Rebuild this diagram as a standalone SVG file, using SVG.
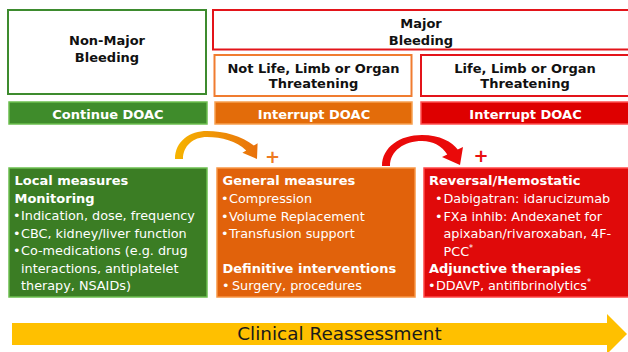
<svg xmlns="http://www.w3.org/2000/svg" width="628" height="352" viewBox="0 0 628 352">
<defs>
<style>
text{font-family:"DejaVu Sans","Liberation Sans",sans-serif;}
.hd{font-size:13px;font-weight:bold;fill:#111;text-anchor:middle;}
.bar{font-size:13px;font-weight:bold;fill:#fff;text-anchor:middle;}
.b{font-size:13px;font-weight:bold;fill:#fff;}
.t{font-size:12.8px;fill:#fff;}
.sup{font-size:8px;}
.frame{fill:#fff;stroke-width:2;}
.plus{font-size:18px;font-weight:bold;text-anchor:middle;}
</style>
<linearGradient id="og" x1="0" y1="0" x2="1" y2="0">
<stop offset="0" stop-color="#f6b400"/>
<stop offset="1" stop-color="#e8700c"/>
</linearGradient>
</defs>
<rect width="628" height="352" fill="#fff"/>

<g id="non-major">
<rect class="frame" x="8" y="10" width="198" height="84" stroke="#3d8b2e"/>
<text class="hd" x="107" y="45">Non-Major</text>
<text class="hd" x="107" y="62">Bleeding</text>
</g>
<g id="major">
<rect class="frame" x="213" y="10" width="420" height="39.5" stroke="#e3141a"/>
<text class="hd" x="421" y="28">Major</text>
<text class="hd" x="421" y="45">Bleeding</text>
</g>
<g id="not-threatening">
<rect class="frame" x="214.5" y="55" width="197" height="41" stroke="#f07c30"/>
<text class="hd" x="313.5" y="73">Not Life, Limb or Organ</text>
<text class="hd" x="313.5" y="88">Threatening</text>
</g>
<g id="threatening">
<rect class="frame" x="421" y="55" width="212" height="41" stroke="#e3141a"/>
<text class="hd" x="525" y="73">Life, Limb or Organ</text>
<text class="hd" x="525" y="88">Threatening</text>
</g>

<g id="continue-doac">
<rect x="9" y="102" width="198" height="22" fill="#3f8c2b" stroke="#6cbf4f" stroke-width="1.5"/>
<text class="bar" x="108" y="119">Continue DOAC</text>
</g>
<g id="interrupt-doac-1">
<rect x="215" y="102" width="197" height="22" fill="#e36c0a" stroke="#f7a050" stroke-width="1.5"/>
<text class="bar" x="314" y="119">Interrupt DOAC</text>
</g>
<g id="interrupt-doac-2">
<rect x="421" y="102" width="212" height="22" fill="#de0000" stroke="#ff5050" stroke-width="1.5"/>
<text class="bar" x="525.5" y="119">Interrupt DOAC</text>
</g>

<g id="local-measures">
<rect x="9" y="168" width="198" height="129" fill="#3b7d24" stroke="#6cbf4f" stroke-width="1.5"/>
<text class="b" x="14.5" y="185">Local measures</text>
<text class="b" x="14.5" y="202.5">Monitoring</text>
<text class="t" x="13" y="220">•<tspan x="21">Indication, dose, frequency</tspan></text>
<text class="t" x="13" y="237.5">•<tspan x="21">CBC, kidney/liver function</tspan></text>
<text class="t" x="13" y="255">•<tspan x="21">Co-medications (e.g. drug</tspan></text>
<text class="t" x="21" y="272.5">interactions, antiplatelet</text>
<text class="t" x="21" y="290">therapy, NSAIDs)</text>
</g>

<g id="general-measures">
<rect x="217" y="168" width="198" height="129" fill="#e1620b" stroke="#f79646" stroke-width="1.5"/>
<text class="b" x="222.5" y="185">General measures</text>
<text class="t" x="221" y="203">•<tspan x="229">Compression</tspan></text>
<text class="t" x="221" y="220.5">•<tspan x="229">Volume Replacement</tspan></text>
<text class="t" x="221" y="238">•<tspan x="229">Transfusion support</tspan></text>
<text class="b" x="222.5" y="273">Definitive interventions</text>
<text class="t" x="222" y="290">•<tspan x="232">Surgery, procedures</tspan></text>
</g>

<g id="reversal">
<rect x="424" y="168" width="209" height="129" fill="#e00a0a" stroke="#ff4848" stroke-width="1.5"/>
<text class="b" x="429" y="185">Reversal/Hemostatic</text>
<text class="t" x="435" y="203">•<tspan x="443.5">Dabigatran: idarucizumab</tspan></text>
<text class="t" x="435" y="220.5">•<tspan x="443.5">FXa inhib: Andexanet for</tspan></text>
<text class="t" x="443.5" y="238">apixaban/rivaroxaban, 4F-</text>
<text class="t" x="443.5" y="255.5">PCC<tspan class="sup" dy="-5">*</tspan></text>
<text class="b" x="429" y="273">Adjunctive therapies</text>
<text class="t" x="428" y="290">•<tspan x="436">DDAVP, antifibrinolytics</tspan><tspan class="sup" dy="-5">*</tspan></text>
</g>

<g id="connectors">
<path d="M175,159 C175,141 190,131 207,131 C224,131 242,136 253.8,145.6 L257.6,143.2 L257,159 L242.4,152.8 L246.2,150.4 C236,141 222,137 207,137 C193,137 183,146 183,159 Z" fill="url(#og)"/>
<text class="plus" x="272.5" y="163" fill="#ee7b22">+</text>
<path d="M382,166 C382,147 400,135 422,135 C440,135 452,142 457.75,149.5 L463,147 L460,165 L442,157 L447.25,154.5 C442,146 433,141 422,141 C404,141 390,151 390,166 Z" fill="#ea0a0a"/>
<text class="plus" x="481" y="162" fill="#e81010">+</text>
</g>

<g id="clinical-reassessment">
<path d="M12,323 L607,323 L607,314 L627,334 L607,354 L607,345 L12,345 Z" fill="#ffc000"/>
<text x="339.5" y="340" font-size="18.4" fill="#1a1a1a" text-anchor="middle">Clinical Reassessment</text>
</g>
</svg>
